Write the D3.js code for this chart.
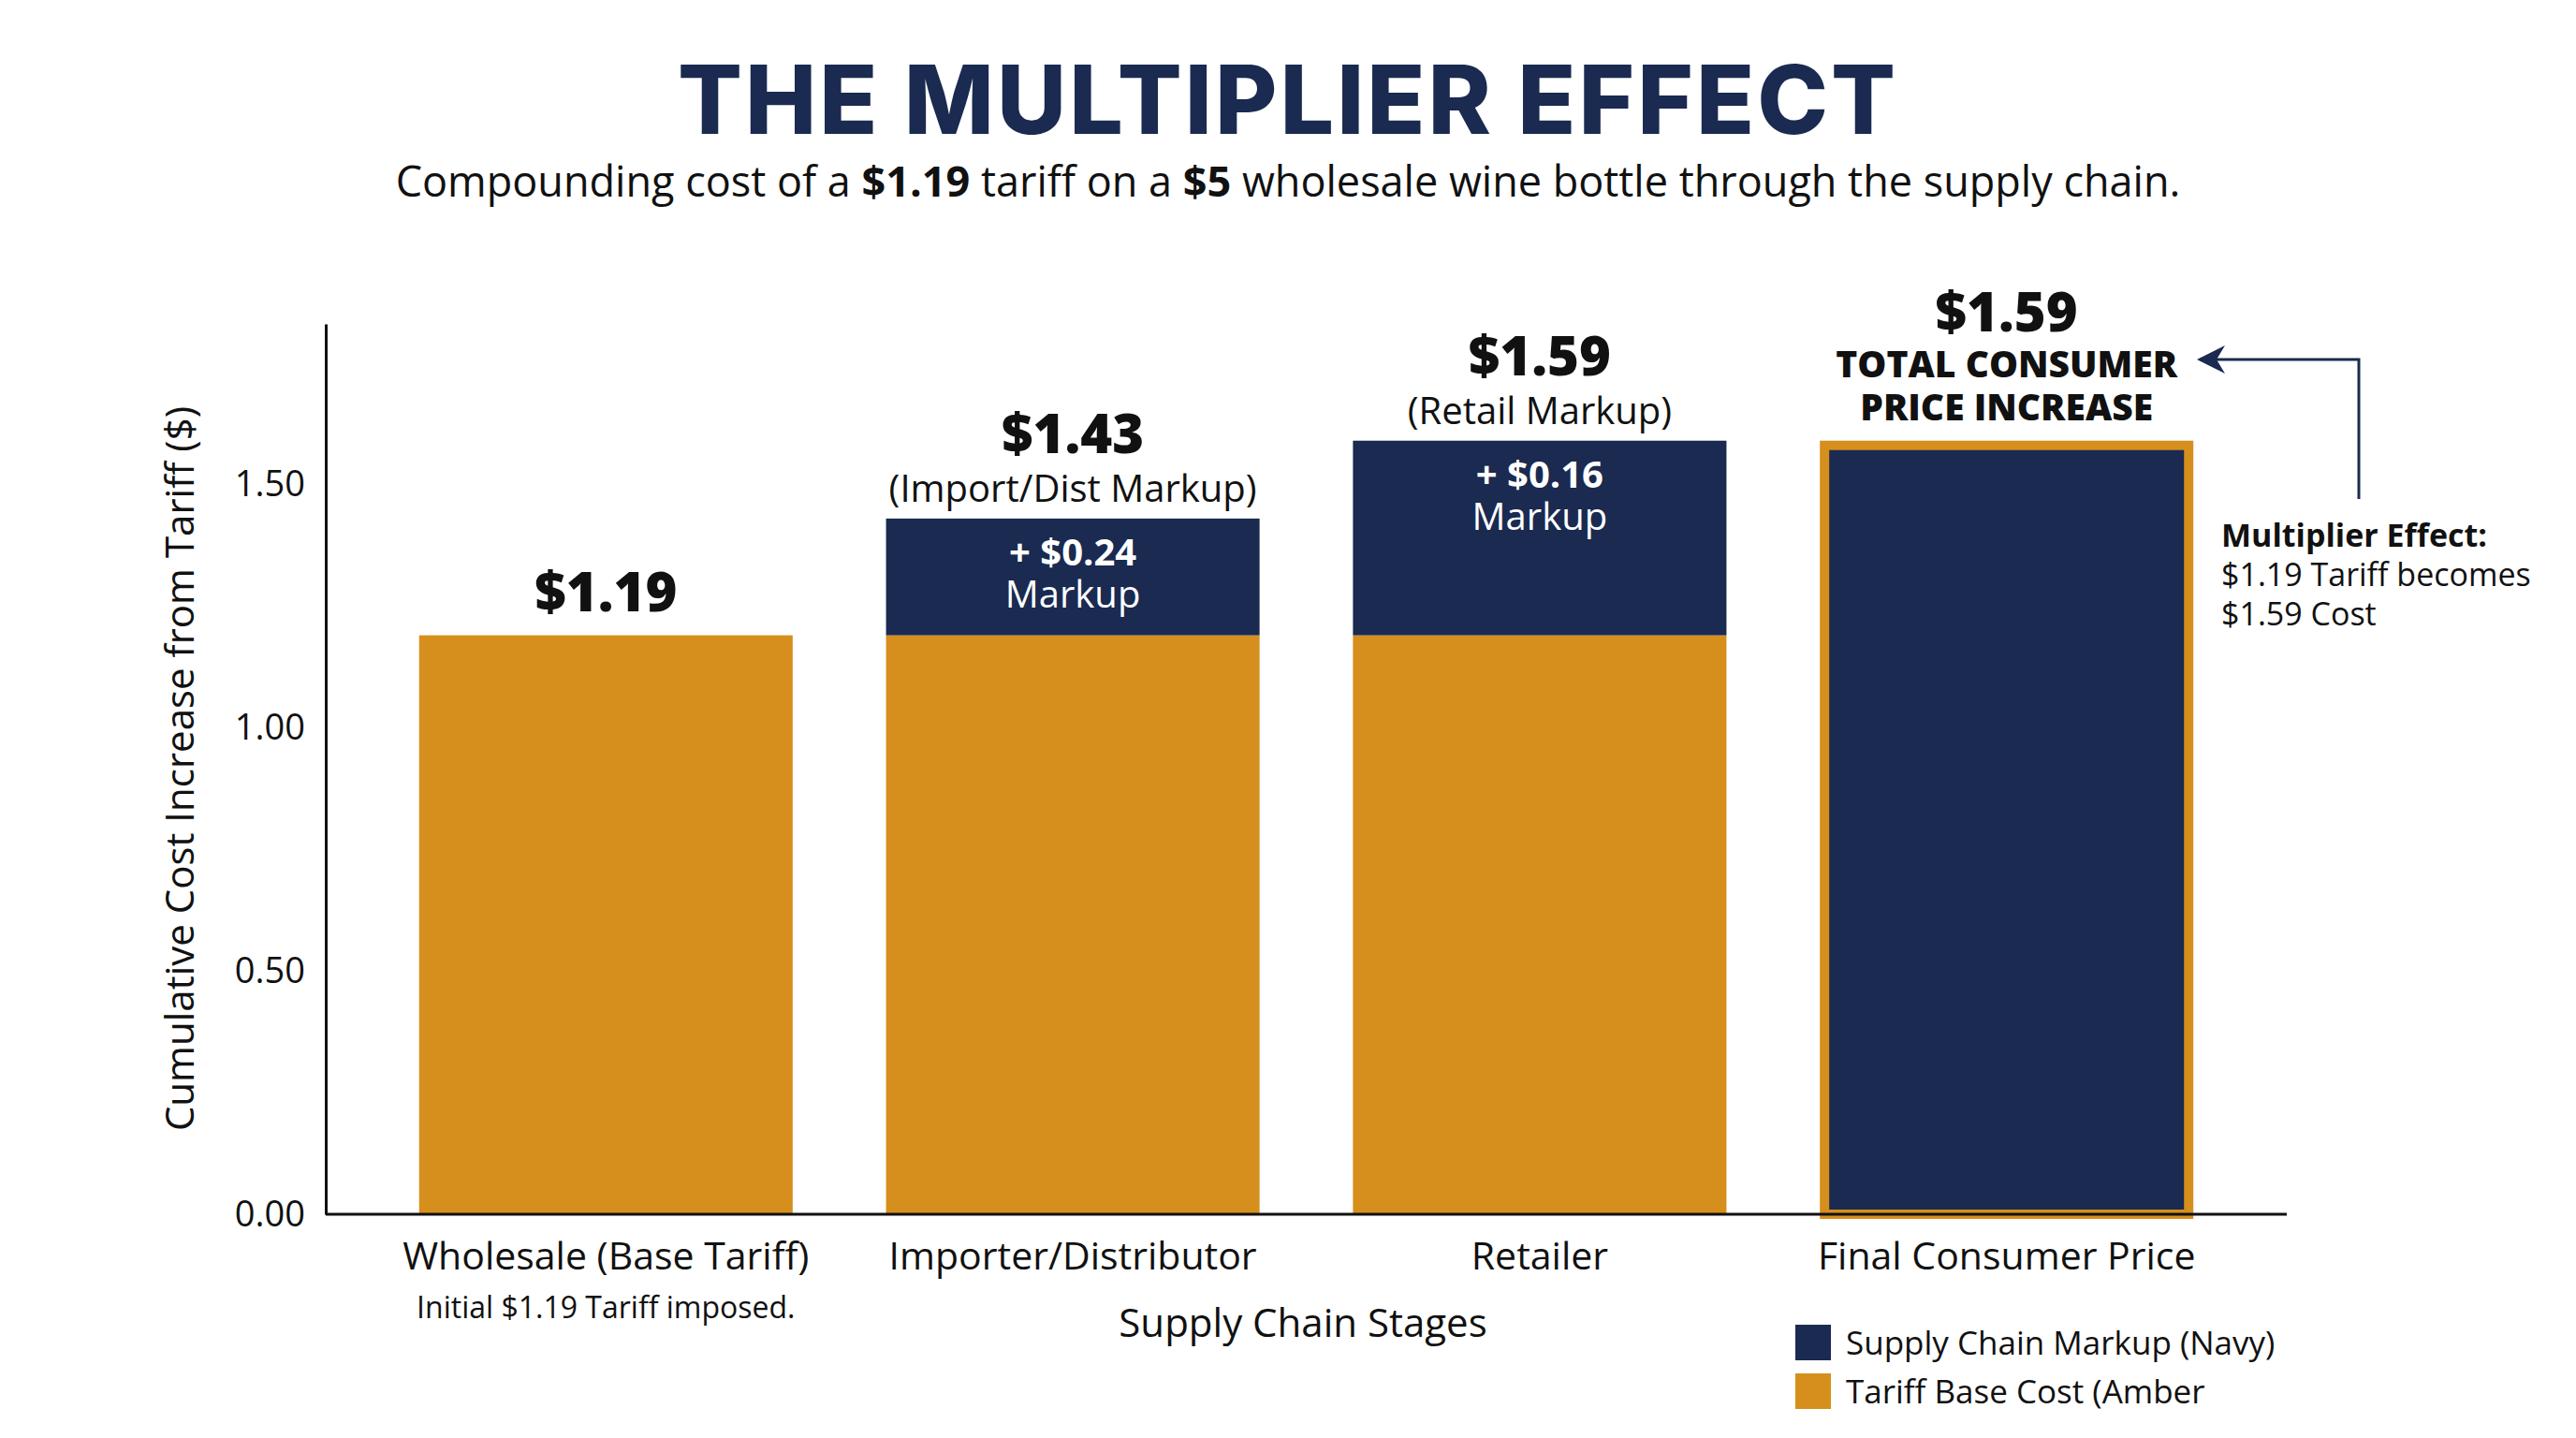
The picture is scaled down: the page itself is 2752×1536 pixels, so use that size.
<!DOCTYPE html>
<html>
<head>
<meta charset="utf-8">
<script src="https://cdn.jsdelivr.net/npm/d3@7"></script>
<style>
  body { margin: 0; background: #fff; }
  text { font-family: "Open Sans", sans-serif; }
</style>
</head>
<body>
<svg id="chart" width="2752" height="1536"></svg>
<script>
// data
const stages = ['Wholesale (Base Tariff)', 'Importer/Distributor', 'Retailer', 'Final Consumer Price'];
const tariffBase = [1.19, 1.19, 1.19, 0];
const markupStep = [0, 0.24, 0.16, 0];     // markup added at each stage
const markupCum = [0, 0.24, 0.40, 0];      // cumulative markup stacked on base
const finalTotal = [0, 0, 0, 1.59];
const totals = [1.19, 1.43, 1.59, 1.59];
const yTicks = [0, 0.5, 1.0, 1.5];

const AMBER = '#d68f1c', NAVY = '#1a2a50';
const svg = d3.select('#chart');

const x = d3.scaleBand().domain(stages).range([348, 2443]).paddingInner(0.2).paddingOuter(0.2);
const y = d3.scaleLinear().domain([0, 1.83]).range([1297, 346]);

// title
svg.append('text').attr('x', 1376).attr('y', 143).attr('text-anchor', 'middle')
  .style('font-size', '102px').style('font-weight', 800).attr('fill', NAVY)
  .style('font-family', 'Inter, sans-serif').style('letter-spacing', '3px').text('THE MULTIPLIER EFFECT');
const sub = svg.append('text').attr('x', 1376).attr('y', 210).attr('text-anchor', 'middle')
  .style('font-size', '45px').attr('fill', '#111');
sub.append('tspan').text('Compounding cost of a ');
sub.append('tspan').style('font-weight', 700).text('$1.19');
sub.append('tspan').text(' tariff on a ');
sub.append('tspan').style('font-weight', 700).text('$5');
sub.append('tspan').text(' wholesale wine bottle through the supply chain.');

// bars: tariff base
svg.selectAll('.base').data(stages).join('rect')
  .attr('x', d => x(d)).attr('width', x.bandwidth())
  .attr('y', (d, i) => y(tariffBase[i])).attr('height', (d, i) => y(0) - y(tariffBase[i]))
  .attr('fill', AMBER);
// markup segments
svg.selectAll('.mk').data(stages).join('rect')
  .attr('x', d => x(d)).attr('width', x.bandwidth())
  .attr('y', (d, i) => y(tariffBase[i] + markupCum[i])).attr('height', (d, i) => y(tariffBase[i]) - y(tariffBase[i] + markupCum[i]))
  .attr('fill', NAVY);
// final bar
svg.selectAll('.fin').data(stages.filter((d, i) => finalTotal[i] > 0)).join('rect')
  .attr('x', d => x(d) + 5).attr('width', x.bandwidth() - 10)
  .attr('y', y(1.59) + 5).attr('height', y(0) - y(1.59) - 5)
  .attr('fill', NAVY).attr('stroke', AMBER).attr('stroke-width', 10);

// axes
const yAxis = svg.append('g').attr('transform', 'translate(348,0)')
  .call(d3.axisLeft(y).tickValues(yTicks).tickFormat(d3.format('.2f')).tickSize(0).tickPadding(22));
yAxis.select('.domain').attr('stroke', '#111').attr('stroke-width', 3);
yAxis.selectAll('text').style('font-size', '38px').attr('fill', '#111').style('font-family', '"Open Sans", sans-serif');
const xAxis = svg.append('g').attr('transform', 'translate(0,1297)')
  .call(d3.axisBottom(x).tickSize(0).tickPadding(30));
xAxis.select('.domain').attr('d', 'M348,0H2443').attr('stroke', '#111').attr('stroke-width', 3);
xAxis.selectAll('text').style('font-size', '41px').attr('fill', '#111').style('font-family', '"Open Sans", sans-serif');

svg.append('text').attr('x', x(stages[0]) + x.bandwidth() / 2).attr('y', 1408).attr('text-anchor', 'middle')
  .style('font-size', '32px').attr('fill', '#111').text('Initial $1.19 Tariff imposed.');
svg.append('text').attr('x', 1392).attr('y', 1428).attr('text-anchor', 'middle')
  .style('font-size', '42px').attr('fill', '#111').text('Supply Chain Stages');
svg.append('text').attr('transform', 'translate(207,821) rotate(-90)').attr('text-anchor', 'middle')
  .style('font-size', '42px').attr('fill', '#111').text('Cumulative Cost Increase from Tariff ($)');

// value labels
const cx = i => x(stages[i]) + x.bandwidth() / 2;
const big = (i, yy) => svg.append('text').attr('x', cx(i)).attr('y', yy).attr('text-anchor', 'middle')
  .style('font-size', '58px').style('font-weight', 800).attr('fill', '#111').text('$' + totals[i].toFixed(2));
big(0, y(totals[0]) - 26);
big(1, y(totals[1]) - 70);
big(2, y(totals[2]) - 70);
big(3, 354);
const paren = ['', '(Import/Dist Markup)', '(Retail Markup)'];
[1, 2].forEach(i => {
  svg.append('text').attr('x', cx(i)).attr('y', y(totals[i]) - 18).attr('text-anchor', 'middle')
    .style('font-size', '40px').attr('fill', '#111').text(paren[i]);
  svg.append('text').attr('x', cx(i)).attr('y', y(totals[i]) + 50).attr('text-anchor', 'middle')
    .style('font-size', '40px').style('font-weight', 700).attr('fill', '#fff').text('+ $' + markupStep[i].toFixed(2));
  svg.append('text').attr('x', cx(i)).attr('y', y(totals[i]) + 95).attr('text-anchor', 'middle')
    .style('font-size', '40px').attr('fill', '#fff').text('Markup');
});
['TOTAL CONSUMER', 'PRICE INCREASE'].forEach((t, k) => {
  svg.append('text').attr('x', cx(3)).attr('y', 403 + k * 46).attr('text-anchor', 'middle')
    .style('font-size', '39px').style('font-weight', 800).attr('fill', '#111').text(t);
});

// annotation arrow
svg.append('defs').append('marker').attr('id', 'ah').attr('viewBox', '0 0 10 10')
  .attr('refX', 9).attr('refY', 5).attr('markerWidth', 10).attr('markerHeight', 10).attr('orient', 'auto')
  .append('path').attr('d', 'M0,0L10,5L0,10L3,5Z').attr('fill', NAVY);
svg.append('path').attr('d', 'M2520,533V384H2350').attr('fill', 'none').attr('stroke', NAVY)
  .attr('stroke-width', 3).attr('marker-end', 'url(#ah)');
svg.append('text').attr('x', 2373).attr('y', 584).style('font-size', '34px').style('font-weight', 700)
  .attr('fill', '#111').text('Multiplier Effect:');
svg.append('text').attr('x', 2373).attr('y', 626).style('font-size', '34px').attr('fill', '#111').text('$1.19 Tariff becomes');
svg.append('text').attr('x', 2373).attr('y', 668).style('font-size', '34px').attr('fill', '#111').text('$1.59 Cost');

// legend
const legend = [['Supply Chain Markup (Navy)', NAVY], ['Tariff Base Cost (Amber', AMBER]];
legend.forEach((l, k) => {
  svg.append('rect').attr('x', 1918).attr('y', 1415 + k * 52).attr('width', 38).attr('height', 38).attr('fill', l[1]);
  svg.append('text').attr('x', 1972).attr('y', 1447 + k * 52).style('font-size', '35px').attr('fill', '#111').text(l[0]);
});
</script>
</body>
</html>
